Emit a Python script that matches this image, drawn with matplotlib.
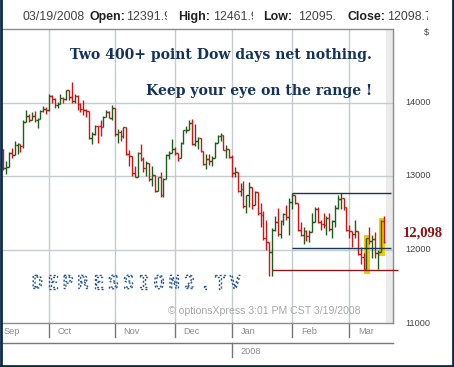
import matplotlib
matplotlib.use('Agg')
import matplotlib.pyplot as plt
import matplotlib.patheffects as pe
from matplotlib.patches import Rectangle
from matplotlib.lines import Line2D
from matplotlib.transforms import Bbox, TransformedBbox, blended_transform_factory

# daily DJIA bars, Sep 7 2007 .. Mar 19 2008 (index = trading day)
opens = [13363, 13113, 13127, 13308, 13291, 13424, 13442, 13403, 13739, 13815, 13767, 13820, 13759, 13779, 13878, 13913,
         13896, 14088, 14047, 13968, 13974, 14066, 14044, 14165, 14079, 14015, 14093, 13985, 13913, 13893, 13889, 13522,
         13567, 13676, 13675, 13672, 13807, 13871, 13793,
         13931, 13568, 13596, 13543, 13660, 13300, 13266, 13043, 12988, 13307, 13231, 13111, 13177, 12958, 13010, 12800,
         12981, 12743, 12959, 13289, 13312,
         13372, 13315, 13249, 13445, 13620, 13625, 13727, 13433, 13474, 13518, 13340, 13168, 13233, 13207, 13246, 13451,
         13550, 13552, 13360, 13366,
         13262, 13044, 13057, 12800, 12827, 12590, 12736, 12854, 12607, 12778, 12501, 12467, 12159, 12099, 11971, 12271,
         12378, 12207, 12384, 12480, 12443,
         12650, 12743, 12635, 12265, 12200, 12248, 12182, 12240, 12374, 12553, 12376, 12348, 12338, 12427, 12285, 12381,
         12570, 12684, 12694, 12582,
         12266, 12258, 12213, 12254, 11941, 11894, 11740, 12156, 12110, 12146, 11951, 11972, 12391]
highs = [13363, 13200, 13320, 13380, 13480, 13450, 13442, 13762, 13900, 13840, 13870, 13890, 13790, 13900, 13950, 13940,
         14115, 14100, 14060, 14010, 14120, 14070, 14170, 14170, 14279, 14110, 14100, 13990, 14030, 13910, 13889, 13600,
         13700, 13680, 13760, 13820, 13900, 13880, 13960,
         13931, 13640, 13620, 13670, 13660, 13360, 13266, 13130, 13320, 13440, 13260, 13200, 13177, 13130, 13010, 12990,
         13050, 12970, 13300, 13340, 13500,
         13400, 13315, 13460, 13630, 13680, 13760, 13770, 13710, 13530, 13518, 13340, 13300, 13300, 13270, 13460, 13560,
         13580, 13552, 13420, 13366,
         13279, 13120, 13057, 12900, 12930, 12740, 12920, 12854, 12800, 12778, 12630, 12530, 12400, 12099, 12290, 12460,
         12560, 12400, 12500, 12600, 12700,
         12767, 12743, 12635, 12370, 12300, 12260, 12260, 12490, 12580, 12580, 12400, 12500, 12460, 12500, 12400, 12600,
         12740, 12770, 12694, 12582,
         12330, 12258, 12400, 12254, 12040, 11950, 12160, 12300, 12200, 12240, 11990, 12400, 12461]
lows = [13087, 13030, 13127, 13240, 13291, 13300, 13330, 13380, 13739, 13740, 13767, 13740, 13650, 13779, 13870, 13850,
        13888, 14000, 13930, 13930, 13974, 13990, 14040, 14030, 13990, 13990, 13900, 13870, 13830, 13800, 13510, 13430,
        13560, 13450, 13550, 13672, 13800, 13790, 13760,
        13550, 13450, 13480, 13520, 13290, 13130, 13000, 12980, 12988, 13200, 13060, 13000, 12930, 12870, 12780, 12800,
        12720, 12720, 12959, 13230, 13312,
        13280, 13200, 13249, 13430, 13580, 13620, 13420, 13410, 13370, 13330, 13150, 13100, 13150, 13140, 13246, 13451,
        13480, 13350, 13250, 13250,
        12991, 12990, 12780, 12730, 12560, 12500, 12580, 12550, 12607, 12470, 12300, 12130, 12000, 11635, 11634, 12250,
        12180, 12150, 12340, 12400, 12200,
        12550, 12620, 12250, 12190, 12070, 12120, 12100, 12240, 12374, 12360, 12260, 12290, 12200, 12250, 12150, 12300,
        12550, 12550, 12540, 12250,
        12160, 12040, 12150, 11930, 11800, 11730, 11740, 12080, 11890, 11880, 11730, 11972, 12095]
closes = [13113, 13127, 13308, 13291, 13424, 13442, 13403, 13739, 13815, 13767, 13820, 13759, 13779, 13878, 13913, 13896,
          14088, 14047, 13968, 13974, 14066, 14044, 14165, 14079, 14015, 14093, 13985, 13913, 13893, 13889, 13522, 13567,
          13676, 13675, 13672, 13807, 13871, 13793, 13931,
          13568, 13596, 13543, 13660, 13300, 13266, 13043, 12988, 13307, 13231, 13111, 13177, 12958, 13010, 12800, 12981,
          12743, 12959, 13289, 13312, 13372,
          13315, 13249, 13445, 13620, 13625, 13727, 13433, 13474, 13518, 13340, 13168, 13233, 13207, 13246, 13451, 13550,
          13552, 13360, 13366, 13265,
          13044, 13057, 12800, 12827, 12590, 12736, 12854, 12607, 12778, 12501, 12467, 12159, 12099, 11971, 12271, 12378,
          12207, 12384, 12480, 12443, 12650,
          12743, 12635, 12265, 12200, 12248, 12182, 12240, 12374, 12553, 12376, 12348, 12338, 12427, 12285, 12381, 12570,
          12684, 12694, 12582, 12266,
          12258, 12213, 12254, 11941, 11894, 11740, 12156, 12110, 12146, 11951, 11972, 12392, 12098]

months = ['Sep', 'Oct', 'Nov', 'Dec', 'Jan', 'Feb', 'Mar']
month_start = [None, 16, 39, 60, 80, 101, 121]
y_ticks = [11000, 12000, 13000, 14000]
y_grid = [12000, 13000, 14000]

range_top = 12773
range_bottom = 12016
support = 11717
range_from = 101
support_from = 94
# highlighted days: (centre index, low, high)
highlights = [(127.2, 11671, 12197), (132.5, 11912, 12425)]

header = [('03/19/2008', 'normal', 22.7, None), ('Open:', 'bold', 89, None), ('12391.9', 'normal', 126, 167),
          ('High:', 'bold', 178, None), ('12461.9', 'normal', 213, 253), ('Low:', 'bold', 263, None),
          ('12095.', 'normal', 298, 337), ('Close:', 'bold', 348, None), ('12098.7', 'normal', 387, 428)]

W, H = 454, 367
fig = plt.figure(figsize=(W / 100, H / 100), dpi=100)


def fx(px):
    return px / W


def fy(py):
    return 1 - py / H


ax = fig.add_axes([fx(2), fy(323), fx(393) - fx(2), fy(29) - fy(323)])
ax.set_xlim(-0.45, 136.3)
ax.set_ylim(11000, 15000)
ax.set_xticks([])
ax.set_yticks([])
for s in ['top', 'bottom', 'right']:
    ax.spines[s].set_color('#8c8c8c')
    ax.spines[s].set_linewidth(1)
ax.spines['left'].set_visible(False)

grid_c = '#c3ccd1'
for m in month_start[1:]:
    ax.axvline(m, color=grid_c, lw=1, zorder=1)
for g in y_grid:
    ax.axhline(g, color=grid_c, lw=1, zorder=1)
ax.axvspan(133.8, 136.3, color='#ebebeb', zorder=0)

# yellow highlights
for xc, lo, hi in highlights:
    ax.add_patch(Rectangle((xc - 1.0, lo), 2.0, hi - lo, facecolor='#f5c800', edgecolor='none', zorder=2))

# OHLC bars
for i in range(len(closes)):
    c = '#1d5e1d' if closes[i] >= opens[i] else '#cc1515'
    ax.vlines(i, lows[i], highs[i], color=c, lw=1, zorder=3)
    ax.hlines(opens[i], i - 0.6, i, color=c, lw=1, zorder=3)
    ax.hlines(closes[i], i, i + 0.6, color=c, lw=1, zorder=3)

ax.hlines([range_top, range_bottom], range_from, 135.5, color='#1b3555', lw=1, zorder=4)
ax.hlines(support, support_from, 138.1, color='#8e1b1b', lw=1, zorder=4, clip_on=False)

# right axis labels
tr = blended_transform_factory(ax.transAxes, ax.transData)
for v in y_ticks:
    ax.text(1 + (405.5 - 393) / 391, v, str(v), transform=tr, ha='left', va='center',
            fontsize=6.6, color='#444444', family='Liberation Sans')
fig.text(fx(426), fy(33), '$', ha='center', va='center', fontsize=6.6, color='#444444', family='Liberation Sans')
ax.text(1 + (402.5 - 393) / 391, 12220, '12,098', transform=tr, ha='left', va='center',
        fontsize=10.5, color='#8b1414', weight='bold', family='Liberation Serif')

# month axis below
trx = blended_transform_factory(ax.transData, ax.transAxes)
ax_h = 294
for name, m in zip(months, month_start):
    if m is None:
        ax.text(0.004, -8.7 / ax_h, name, transform=ax.transAxes, ha='left', va='center',
                fontsize=6.6, color='#8c8c8c', family='Liberation Sans')
        continue
    ax.add_line(Line2D([m, m], [0, -14 / ax_h], transform=trx, color='#777777', lw=1, clip_on=False))
    ax.text(m + 3.1, -8.7 / ax_h, name, transform=trx, ha='left', va='center',
            fontsize=6.6, color='#8c8c8c', family='Liberation Sans')
ax.add_line(Line2D([-0.01, 1], [-20 / ax_h, -20 / ax_h], transform=ax.transAxes, color='#777777', lw=1, clip_on=False))
ax.add_line(Line2D([80, 80], [-20 / ax_h, -34 / ax_h], transform=trx, color='#777777', lw=1, clip_on=False))
ax.text(83.1, -29 / ax_h, '2008', transform=trx, ha='left', va='center',
        fontsize=6.6, color='#8c8c8c', family='Liberation Sans')

# header line
for txt, wt, x0, clip in header:
    t = fig.text(fx(x0), fy(16.7), txt, ha='left', va='center', fontsize=8.9, weight=wt,
                 color='#222222' if wt == 'bold' else '#444444', family='Liberation Sans')
    if clip is not None:
        t.set_clip_box(TransformedBbox(Bbox.from_extents(fx(x0), 0, fx(clip), 1), fig.transFigure))
        t.set_clip_on(True)

# annotations
fig.text(fx(372), fy(55), 'Two 400+ point Dow days net nothing.', ha='right', va='center',
         fontsize=10.1, weight='bold', color='#13335e', family='DejaVu Serif')
fig.text(fx(372), fy(91), 'Keep your eye on the range !', ha='right', va='center',
         fontsize=10.1, weight='bold', color='#13335e', family='DejaVu Serif')
fig.text(fx(168), fy(311), '\u00a9 optionsXpress 3:01 PM CST 3/19/2008', ha='left', va='center',
         fontsize=7.6, color='#a8a8a8', family='Liberation Sans')

# dotted watermark
for k, ch in enumerate('DEPRESSION2.TV'):
    fig.text(fx(32 + k * 15.2), fy(283.5), ch, ha='left', va='center', fontsize=13,
             family='DejaVu Sans Mono', color='none',
             path_effects=[pe.PathPatchEffect(edgecolor='#2a5a98', facecolor='none', lw=1.0,
                                              linestyle=(0, (1.5, 1.5)))])

# outer frame
for xs, ys in [([fx(0.8), fx(0.8)], [0, 1]), ([fx(453), fx(453)], [0, 1]), ([0, 1], [fy(365.5), fy(365.5)])]:
    fig.add_artist(Line2D(xs, ys, transform=fig.transFigure, color='#0e2a4a', lw=2))

fig.savefig('out.png', dpi=100)
